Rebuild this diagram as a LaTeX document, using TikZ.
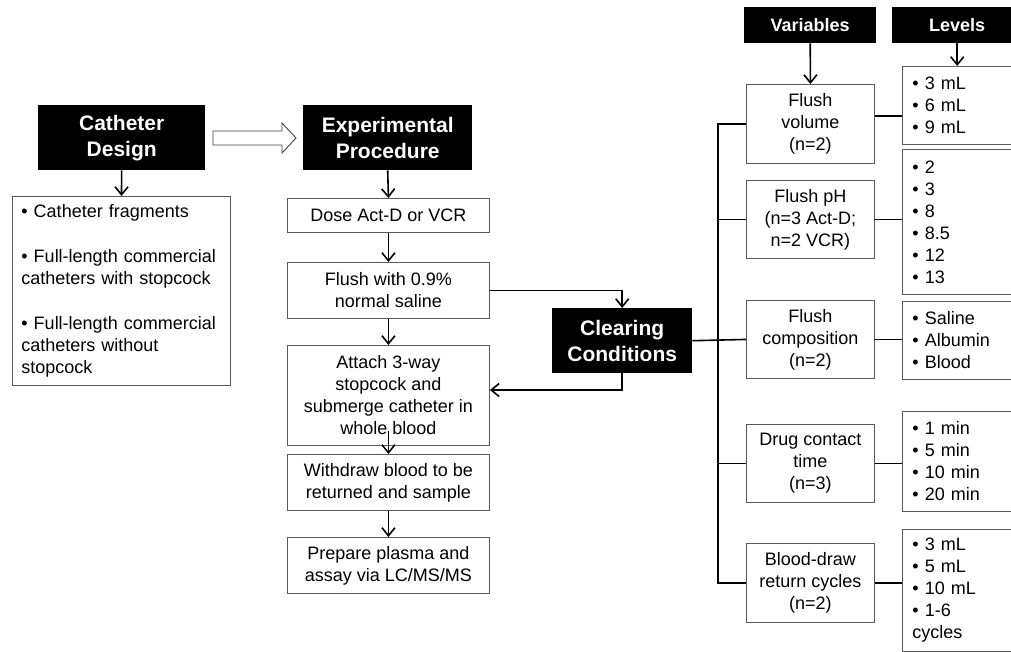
\documentclass[tikz,border=0pt]{standalone}
\usepackage{fontspec}
\setmainfont{Liberation Sans}
\usetikzlibrary{arrows.meta}
\newcommand{\hdrfont}{\fontsize{21}{26}\selectfont\bfseries}
\newcommand{\smhdrfont}{\fontsize{18}{22}\selectfont\bfseries}
\newcommand{\bodyfont}{\fontsize{18}{22}\selectfont}
\begin{document}
\begin{tikzpicture}[x=1pt,y=-1pt,
  blk/.style={fill=black,text=white,font=\hdrfont,align=center,inner sep=0pt,anchor=north west},
  sblk/.style={blk,font=\smhdrfont},
  wbox/.style={draw=black!65,line width=0.9pt,fill=white,align=center,inner sep=0pt,font=\bodyfont,anchor=north west},
  lbox/.style={draw=black!65,line width=0.9pt,fill=white,align=left,inner xsep=10pt,inner ysep=0pt,font=\bodyfont,anchor=north west},
  conn/.style={line width=1.6pt},
  arr/.style={conn,-{Straight Barb[length=8pt,width=13pt]}},
]
\useasboundingbox (0,0) rectangle (1011,652);
\clip (0,0) rectangle (1011,652);

% left column
\node[blk,minimum width=167pt,minimum height=65pt] (cath) at (38,105) {Catheter\\Design};
\node[lbox,text width=200pt,minimum height=189pt,inner xsep=9pt] (list) at (12,196)
  {• Catheter fragments\\[23pt]
   • Full-length commercial\\catheters with stopcock\\[23pt]
   • Full-length commercial\\catheters without\\stopcock};
\draw[arr] (cath.south) -- (list.north);

% hollow arrow
\draw[line width=0.9pt,draw=black!75,fill=white]
  (213,131) -- (282,131) -- (282,123) -- (296,138) -- (282,153) -- (282,145) -- (213,145) -- cycle;

% procedure column
\node[blk,minimum width=169pt,minimum height=65pt] (exp) at (303,105) {Experimental\\Procedure};
\node[wbox,minimum width=202pt,minimum height=34pt] (dose) at (287,198) {Dose Act-D or VCR};
\node[wbox,minimum width=202pt,minimum height=56pt] (flush) at (287,262) {Flush with 0.9\%\\normal saline};
\node[wbox,minimum width=202pt,minimum height=100pt] (attach) at (287,345) {Attach 3-way\\stopcock and\\submerge catheter in\\whole blood};
\node[wbox,minimum width=202pt,minimum height=56pt] (withdraw) at (287,454) {Withdraw blood to be\\returned and sample};
\node[wbox,minimum width=202pt,minimum height=56pt] (prep) at (287,537) {Prepare plasma and\\assay via LC/MS/MS};
\draw[arr] (exp.south) -- (dose.north);
\draw[arr] (dose.south) -- (flush.north);
\draw[arr] (flush.south) -- (attach.north);
\draw[arr] ([yshift=15pt]attach.south) -- (withdraw.north);
\draw[arr] (withdraw.south) -- (prep.north);

% clearing conditions
\node[blk,minimum width=140pt,minimum height=65pt] (clear) at (552,308) {Clearing\\Conditions};
\draw[arr] (flush.east) -| (clear.north);
\coordinate (ret) at (0,390);
\draw[arr] (clear.south) |- (attach.east |- ret);

% headers
\node[sblk,minimum width=132pt,minimum height=36pt] (vars) at (744,7) {Variables};
\node[sblk,minimum width=130pt,minimum height=36pt] (levs) at (892,7) {Levels};

% variable boxes
\node[wbox,minimum width=128pt,minimum height=79pt] (fv) at (746,84) {Flush\\volume\\(n=2)};
\node[wbox,minimum width=128pt,minimum height=78pt] (fph) at (746,180) {Flush pH\\(n=3 Act-D;\\n=2 VCR)};
\node[wbox,minimum width=128pt,minimum height=78pt] (fc) at (746,300) {Flush\\composition\\(n=2)};
\node[wbox,minimum width=128pt,minimum height=78pt] (dct) at (746,424) {Drug contact\\time\\(n=3)};
\node[wbox,minimum width=128pt,minimum height=79pt] (bd) at (746,543) {Blood-draw\\return cycles\\(n=2)};

% level boxes
\node[lbox,text width=108pt,minimum height=78pt] (l1) at (902,66) {• 3 mL\\• 6 mL\\• 9 mL};
\node[lbox,text width=108pt,minimum height=145pt] (l2) at (902,149) {• 2\\• 3\\• 8\\• 8.5\\• 12\\• 13};
\node[lbox,text width=108pt,minimum height=78pt] (l3) at (902,301) {• Saline\\• Albumin\\• Blood};
\node[lbox,text width=108pt,minimum height=100pt] (l4) at (902,411) {• 1 min\\• 5 min\\• 10 min\\• 20 min};
\node[lbox,text width=108pt,minimum height=122pt] (l5) at (902,529) {• 3 mL\\• 5 mL\\• 10 mL\\• 1-6\\cycles};

\draw[arr] (vars.south) -- (fv.north);
\draw[arr] (levs.south) -- (levs.south |- l1.north);

% bus
\coordinate (bx) at (718,0);
\draw[conn] (clear.east) -- (fc.west);
\draw[conn] (fv.west) -| (bx |- bd.west) -- (bd.west);
\draw[conn] (fph.west) -- (bx |- fph.west);
\draw[conn] (dct.west) -- (bx |- dct.west);

% variable to level
\coordinate (r1) at (0,116);
\draw[conn] (fv.east |- r1) -- (l1.west |- r1);
\draw[conn] (fph.east) -- (fph.east -| l2.west);
\draw[conn] (fc.east) -- (fc.east -| l3.west);
\draw[conn] (dct.east) -- (dct.east -| l4.west);
\draw[conn] (bd.east) -- (bd.east -| l5.west);
\end{tikzpicture}
\end{document}
